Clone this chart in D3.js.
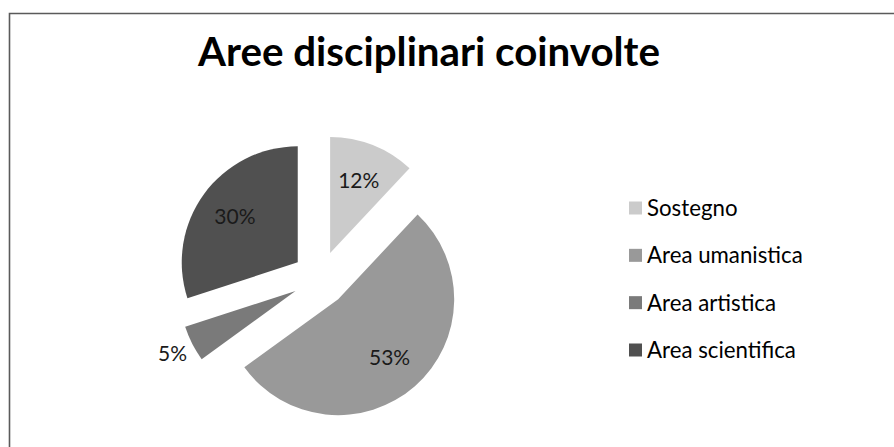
<!DOCTYPE html>
<html>
<head>
<meta charset="utf-8">
<script src="https://cdn.jsdelivr.net/npm/d3@7"></script>
<style>
  html, body { margin: 0; padding: 0; background: #fff; }
  svg { display: block; }
  text { font-family: Lato, "Open Sans", "DejaVu Sans", sans-serif; }
</style>
</head>
<body>
<svg id="chart" width="894" height="447"></svg>
<script>
// Disciplinary areas and their shares (%)
const categories = ["Sostegno", "Area umanistica", "Area artistica", "Area scientifica"];
const shares = [12, 53, 5, 30];
const colors = ["#cbcbcb", "#999999", "#7a7a7a", "#505050"];
const title = "Aree disciplinari coinvolte";

const W = 894, H = 447;
const svg = d3.select("#chart");

// Chart frame (left and top edges)
svg.append("path")
  .attr("d", `M9.5,${H} L9.5,13.5 L${W},13.5`)
  .attr("fill", "none")
  .attr("stroke", "#5a5a5a")
  .attr("stroke-width", 1.6);

// Scale a text's font size so it spans a given width
function fitWidth(sel, target, start) {
  sel.attr("font-size", start);
  const w = sel.node().getComputedTextLength();
  sel.attr("font-size", start * target / w);
}

// Title
const t = svg.append("text")
  .attr("x", 429).attr("y", 66)
  .attr("text-anchor", "middle")
  .attr("font-weight", 700)
  .attr("fill", "#000")
  .text(title);
fitWidth(t, 462, 36);

// Exploded pie
const cx = 320, cy = 278.5, r = 116, explode = 27.5;
const pie = d3.pie().sort(null).value(d => d.v).startAngle(0).endAngle(2 * Math.PI);
const arc = d3.arc().innerRadius(0).outerRadius(r);
const data = categories.map((c, i) => ({ name: c, v: shares[i], color: colors[i] }));
const arcs = pie(data);

const g = svg.append("g").attr("transform", `translate(${cx},${cy})`);

const dir = a => [Math.sin(a), -Math.cos(a)];

const slice = g.selectAll("g.slice")
  .data(arcs)
  .join("g")
  .attr("class", "slice")
  .attr("transform", d => {
    const m = (d.startAngle + d.endAngle) / 2;
    const [dx, dy] = dir(m);
    return `translate(${dx * explode},${dy * explode})`;
  });

slice.append("path")
  .attr("d", arc)
  .attr("fill", d => d.data.color);

// Percentage labels: inside the slice, or just outside for narrow ones
slice.append("text")
  .attr("transform", d => {
    const m = (d.startAngle + d.endAngle) / 2;
    const frac = (d.endAngle - d.startAngle) / (2 * Math.PI);
    const lr = frac < 0.08 ? r * 1.19 : r * 0.67;
    const [dx, dy] = dir(m);
    return `translate(${dx * lr},${dy * lr})`;
  })
  .attr("text-anchor", "middle")
  .attr("dy", "0.36em")
  .attr("font-size", 21)
  .attr("fill", "#1a1a1a")
  .text(d => d.data.v + "%");

// Legend
const legY = d3.scalePoint().domain(categories).range([208, 350]);
const leg = svg.append("g");
const items = leg.selectAll("g")
  .data(data)
  .join("g")
  .attr("transform", d => `translate(629,${legY(d.name)})`);

items.append("rect")
  .attr("x", 0).attr("y", -6.5)
  .attr("width", 13).attr("height", 13)
  .attr("fill", d => d.color);

const labels = items.append("text")
  .attr("x", 18)
  .attr("dy", "0.36em")
  .attr("fill", "#000")
  .text(d => d.name);

// Common legend font size, set by the longest entry
labels.attr("font-size", 19);
const longest = labels.filter(d => d.name === "Area scientifica").node().getComputedTextLength();
labels.attr("font-size", 19 * 149 / longest);
</script>
</body>
</html>
